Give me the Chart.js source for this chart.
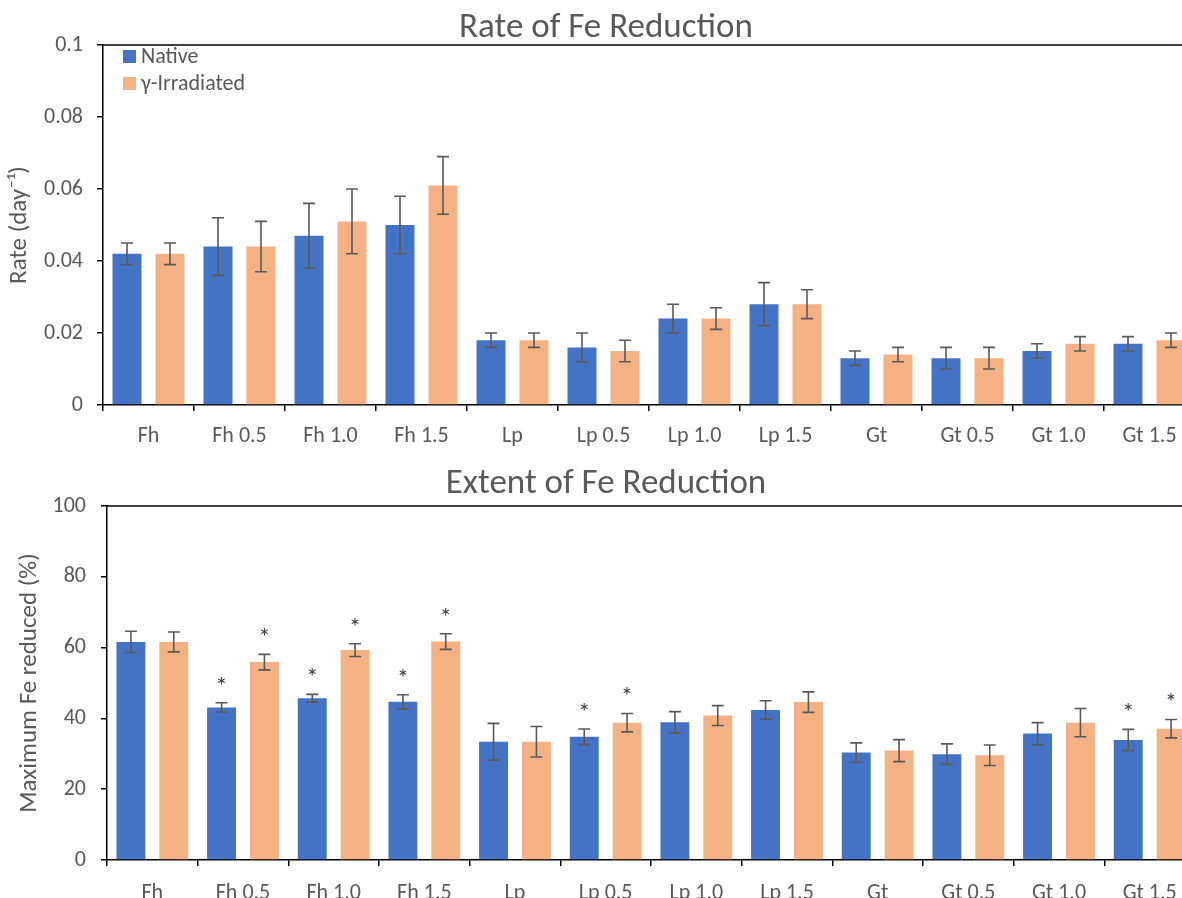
<!DOCTYPE html>
<html>
<head>
<meta charset="utf-8">
<script src="https://cdn.jsdelivr.net/npm/chart.js@4.4.1/dist/chart.umd.min.js"></script>
<style>
  html, body { margin: 0; padding: 0; background: #fff; overflow: hidden; width: 1182px; height: 898px; }
  canvas { position: absolute; left: 0; }
  #rate { top: 0; }
  #extent { top: 450px; }
</style>
</head>
<body>
<canvas id="rate" width="1200" height="450"></canvas>
<canvas id="extent" width="1200" height="448"></canvas>
<script>
const categories = ['Fh', 'Fh 0.5', 'Fh 1.0', 'Fh 1.5', 'Lp', 'Lp 0.5', 'Lp 1.0', 'Lp 1.5', 'Gt', 'Gt 0.5', 'Gt 1.0', 'Gt 1.5'];
const seriesNames = ['Native', 'γ-Irradiated'];

// rate of Fe reduction (day^-1)
const rateNative      = [0.042, 0.044, 0.047, 0.050, 0.018, 0.016, 0.024, 0.028, 0.013, 0.013, 0.015, 0.017];
const rateNativeErr   = [0.003, 0.008, 0.009, 0.008, 0.002, 0.004, 0.004, 0.006, 0.002, 0.003, 0.002, 0.002];
const rateIrrad       = [0.042, 0.044, 0.051, 0.061, 0.018, 0.015, 0.024, 0.028, 0.014, 0.013, 0.017, 0.018];
const rateIrradErr    = [0.003, 0.007, 0.009, 0.008, 0.002, 0.003, 0.003, 0.004, 0.002, 0.003, 0.002, 0.002];
const rateTicks       = ['0', '0.02', '0.04', '0.06', '0.08', '0.1'];

// maximum Fe reduced (%)
const extentNative    = [61.6, 43.1, 45.7, 44.7, 33.4, 34.8, 38.9, 42.4, 30.4, 29.9, 35.7, 33.9];
const extentNativeErr = [3.0, 1.3, 1.1, 2.0, 5.2, 2.2, 3.0, 2.6, 2.7, 2.9, 3.1, 3.0];
const extentIrrad     = [61.6, 55.9, 59.3, 61.7, 33.4, 38.8, 40.8, 44.6, 30.9, 29.6, 38.8, 37.1];
const extentIrradErr  = [2.8, 2.2, 1.8, 2.2, 4.3, 2.6, 2.8, 2.9, 3.1, 2.9, 4.0, 2.6];
const nativeStars     = [false, true, true, true, false, true, false, false, false, false, false, true];
const irradStars      = [false, true, true, true, false, true, false, false, false, false, false, true];
const extentTicks     = ['0', '20', '40', '60', '80', '100'];

const FONT = 'Carlito, Calibri, Lato, sans-serif';
const GREY = '#595959';
const BLUE = '#4472C4';
const ORANGE = '#F4B183';

const errorBars = {
  id: 'errorBars',
  afterDatasetsDraw(chart) {
    const { ctx } = chart;
    const y = chart.scales.y;
    ctx.save();
    ctx.strokeStyle = GREY;
    ctx.fillStyle = '#404040';
    ctx.lineWidth = 1.6;
    ctx.font = '25px ' + FONT;
    ctx.textAlign = 'center';
    ctx.textBaseline = 'alphabetic';
    chart.data.datasets.forEach((ds, i) => {
      chart.getDatasetMeta(i).data.forEach((bar, j) => {
        const yt = y.getPixelForValue(ds.data[j] + ds.err[j]);
        const yb = y.getPixelForValue(ds.data[j] - ds.err[j]);
        ctx.beginPath();
        ctx.moveTo(bar.x, yt); ctx.lineTo(bar.x, yb);
        ctx.moveTo(bar.x - 6, yt); ctx.lineTo(bar.x + 6, yt);
        ctx.moveTo(bar.x - 6, yb); ctx.lineTo(bar.x + 6, yb);
        ctx.stroke();
        if (ds.stars && ds.stars[j]) ctx.fillText('*', bar.x, yt - 9);
      });
    });
    ctx.restore();
  }
};

const frame = {
  id: 'frame',
  afterDraw(chart, args, opts) {
    const { ctx, chartArea } = chart;
    ctx.save();
    // top border line
    ctx.strokeStyle = '#000';
    ctx.lineWidth = 1.5;
    ctx.beginPath();
    ctx.moveTo(chartArea.left, chartArea.top);
    ctx.lineTo(chartArea.right, chartArea.top);
    ctx.stroke();
    // title
    ctx.fillStyle = GREY;
    ctx.font = opts.size + 'px ' + FONT;
    ctx.textAlign = 'center';
    ctx.textBaseline = 'middle';
    ctx.fillText(opts.text, opts.x, opts.y);
    // legend
    if (opts.legend) {
      ctx.font = '22px ' + FONT;
      ctx.textAlign = 'left';
      chart.data.datasets.forEach((ds, i) => {
        const ly = chartArea.top + 5 + i * 27;
        ctx.fillStyle = ds.backgroundColor;
        ctx.fillRect(chartArea.left + 20, ly, 13, 13);
        ctx.fillStyle = GREY;
        ctx.fillText(ds.label, chartArea.left + 38, ly + 7);
      });
    }
    ctx.restore();
  }
};

function makeChart(id, native, nativeErr, irrad, irradErr, ticks, max, step, yTitle, cfg) {
  return new Chart(document.getElementById(id), {
    type: 'bar',
    data: {
      labels: categories,
      datasets: [
        { label: seriesNames[0], data: native, err: nativeErr, stars: cfg.nStars, backgroundColor: BLUE, borderWidth: 0 },
        { label: seriesNames[1], data: irrad, err: irradErr, stars: cfg.iStars, backgroundColor: ORANGE, borderWidth: 0 }
      ]
    },
    options: {
      responsive: false,
      animation: false,
      datasets: { bar: { categoryPercentage: 0.945, barPercentage: 0.675 } },
      layout: { padding: { top: cfg.top, right: 5, left: 0, bottom: 0 } },
      plugins: {
        legend: { display: false },
        tooltip: { enabled: false },
        frame: { text: cfg.title, x: 606, y: cfg.titleY, size: 35, legend: cfg.legend }
      },
      scales: {
        x: {
          grid: { drawOnChartArea: false, drawTicks: true, tickLength: 6, color: '#000', lineWidth: 1.5, offset: true },
          border: { display: true, color: '#000', width: 1.5 },
          ticks: { color: GREY, font: { family: FONT, size: 22 }, padding: cfg.xPad, maxRotation: 0, autoSkip: false },
          afterFit: s => { s.height = cfg.xHeight; }
        },
        y: {
          min: 0, max: max,
          grid: { drawOnChartArea: false, drawTicks: true, tickLength: 6, color: '#000', lineWidth: 1.5 },
          border: { display: true, color: '#000', width: 1.5 },
          ticks: { stepSize: step, color: GREY, font: { family: FONT, size: 22 }, padding: cfg.yPad,
                   callback: (v, i) => ticks[i] },
          title: { display: true, text: yTitle, color: GREY, font: { family: FONT, size: cfg.yTitleSize }, padding: { top: cfg.yTitlePad, bottom: 0 } },
          afterFit: s => { s.width = cfg.yWidth; }
        }
      }
    },
    plugins: [errorBars, frame]
  });
}

makeChart('rate', rateNative, rateNativeErr, rateIrrad, rateIrradErr, rateTicks, 0.1, 0.02, 'Rate (day⁻¹)', {
  title: 'Rate of Fe Reduction', titleY: 28, top: 45, legend: true,
  xHeight: 45, xPad: 12, yWidth: 103, yPad: 14, yTitleSize: 25, yTitlePad: 5
});

makeChart('extent', extentNative, extentNativeErr, extentIrrad, extentIrradErr, extentTicks, 100, 20, 'Maximum Fe reduced (%)', {
  title: 'Extent of Fe Reduction', titleY: 34, top: 56, legend: false, nStars: nativeStars, iStars: irradStars,
  xHeight: 38, xPad: 14, yWidth: 107, yPad: 15, yTitleSize: 25, yTitlePad: 15
});
</script>
</body>
</html>
